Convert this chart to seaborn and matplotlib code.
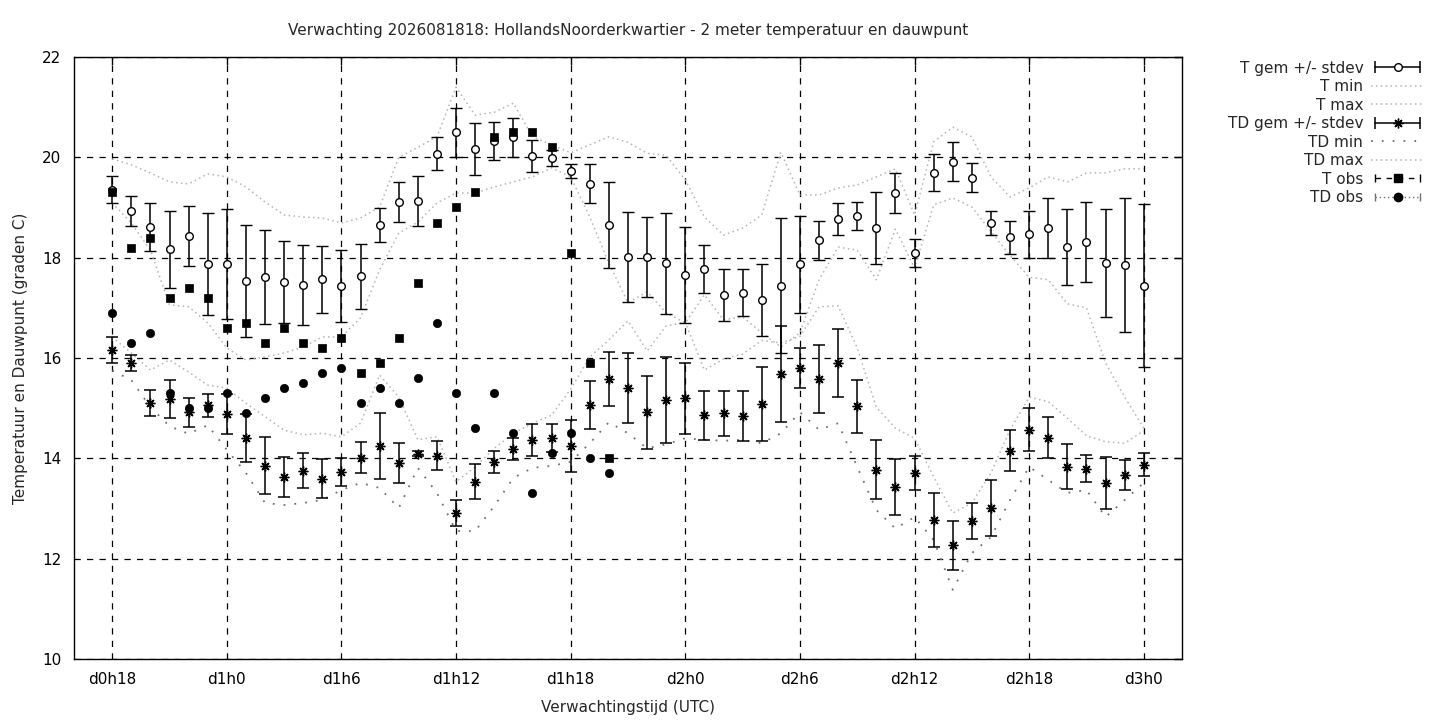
import numpy as np
import pandas as pd
import matplotlib
matplotlib.use("Agg")
import matplotlib.pyplot as plt
import seaborn as sns
from matplotlib.lines import Line2D
from matplotlib.legend_handler import HandlerLine2D, HandlerTuple

# verwachtingsuren (uren na d0h0)
uren = list(range(18, 73))
obs_uren = list(range(18, 45))

t_gem = [19.35, 18.93, 18.61, 18.17, 18.43, 17.87, 17.87, 17.53, 17.61, 17.51,
         17.45, 17.57, 17.44, 17.63, 18.65, 19.11, 19.13, 20.07, 20.50, 20.17,
         20.33, 20.40, 20.03, 19.99, 19.73, 19.47, 18.65, 18.01, 18.01, 17.89,
         17.65, 17.77, 17.26, 17.30, 17.16, 17.44, 17.87, 18.35, 18.77, 18.83,
         18.59, 19.29, 18.09, 19.69, 19.91, 19.59, 18.69, 18.41, 18.47, 18.59,
         18.21, 18.31, 17.89, 17.85, 17.44]
t_sd = [0.27, 0.30, 0.47, 0.77, 0.59, 1.02, 1.10, 1.12, 0.94, 0.82,
        0.80, 0.67, 0.72, 0.65, 0.34, 0.40, 0.50, 0.33, 0.49, 0.52,
        0.38, 0.39, 0.32, 0.16, 0.14, 0.39, 0.86, 0.90, 0.80, 1.01,
        0.96, 0.48, 0.52, 0.47, 0.72, 1.35, 0.97, 0.39, 0.32, 0.27,
        0.71, 0.40, 0.28, 0.37, 0.39, 0.29, 0.24, 0.33, 0.47, 0.59,
        0.76, 0.80, 1.08, 1.33, 1.62]
t_min = [19.09, 18.69, 18.15, 17.06, 17.02, 16.70, 16.20, 15.96, 16.02, 16.10,
         16.22, 16.42, 16.42, 16.80, 17.76, 18.49, 18.71, 19.09, 19.29, 19.29,
         19.41, 19.51, 19.61, 19.79, 19.61, 18.81, 17.89, 17.10, 17.32, 16.90,
         16.70, 17.26, 16.76, 16.82, 16.50, 16.22, 16.50, 17.56, 18.21, 18.15,
         17.56, 18.57, 17.79, 19.05, 19.19, 19.01, 18.52, 18.04, 17.61, 17.56,
         17.08, 17.00, 15.90, 15.22, 14.60]
t_max = [19.97, 19.85, 19.69, 19.51, 19.47, 19.67, 19.61, 19.41, 19.11, 18.85,
         18.81, 18.79, 18.69, 18.79, 19.01, 20.00, 20.20, 20.41, 21.40, 20.84,
         20.90, 21.08, 20.41, 20.25, 20.09, 20.25, 20.41, 20.30, 20.08, 20.04,
         19.55, 18.81, 18.45, 18.59, 18.85, 20.10, 19.25, 19.25, 19.39, 19.45,
         19.61, 19.77, 18.85, 20.31, 20.60, 20.41, 19.61, 19.21, 19.39, 19.61,
         19.51, 19.69, 19.69, 19.77, 19.77]

td_gem = [16.16, 15.90, 15.10, 15.18, 14.92, 15.06, 14.88, 14.40, 13.85, 13.63,
          13.75, 13.59, 13.73, 14.01, 14.25, 13.91, 14.09, 14.05, 12.91, 13.53,
          13.93, 14.19, 14.37, 14.41, 14.25, 15.06, 15.58, 15.40, 14.92, 15.16,
          15.20, 14.86, 14.90, 14.84, 15.08, 15.68, 15.80, 15.58, 15.90, 15.04,
          13.77, 13.43, 13.71, 12.77, 12.27, 12.75, 13.01, 14.15, 14.57, 14.41,
          13.83, 13.79, 13.51, 13.67, 13.87]
td_sd = [0.25, 0.16, 0.26, 0.38, 0.29, 0.23, 0.40, 0.48, 0.57, 0.40,
         0.35, 0.39, 0.28, 0.31, 0.66, 0.40, 0.05, 0.29, 0.26, 0.35,
         0.22, 0.22, 0.32, 0.28, 0.52, 0.48, 0.53, 0.70, 0.73, 0.85,
         0.71, 0.49, 0.45, 0.50, 0.74, 0.96, 0.39, 0.68, 0.67, 0.53,
         0.59, 0.56, 0.34, 0.53, 0.49, 0.35, 0.55, 0.41, 0.43, 0.41,
         0.45, 0.27, 0.52, 0.30, 0.23]
td_min = [15.75, 15.56, 15.02, 14.64, 14.49, 14.66, 14.17, 13.71, 13.11, 13.07,
          13.11, 13.17, 13.37, 13.51, 13.41, 13.01, 13.81, 13.31, 12.55, 12.55,
          13.05, 13.61, 13.81, 13.85, 13.93, 14.30, 14.72, 14.50, 14.20, 14.28,
          14.40, 14.37, 14.35, 14.37, 14.30, 14.50, 14.92, 14.57, 14.70, 13.83,
          12.97, 12.60, 12.83, 12.37, 11.38, 12.11, 12.43, 13.17, 13.83, 13.57,
          13.31, 13.37, 12.83, 13.17, 13.51]
td_max = [16.42, 16.10, 15.76, 15.96, 15.72, 15.46, 15.40, 15.10, 14.83, 14.56,
          14.47, 14.50, 14.43, 14.70, 15.66, 15.22, 14.37, 14.43, 13.53, 13.83,
          14.20, 14.50, 14.70, 14.86, 15.38, 16.02, 16.36, 16.74, 16.14, 16.64,
          16.71, 15.76, 15.98, 16.08, 16.35, 16.30, 16.43, 17.02, 17.04, 16.20,
          15.02, 14.60, 14.40, 13.63, 12.91, 13.11, 13.71, 14.57, 15.22, 15.13,
          14.80, 14.45, 14.33, 14.30, 14.55]

t_obs = [19.3, 18.2, 18.4, 17.2, 17.4, 17.2, 16.6, 16.7, 16.3, 16.6, 16.3, 16.2,
         16.4, 15.7, 15.9, 16.4, 17.5, 18.7, 19.0, 19.3, 20.4, 20.5, 20.5, 20.2,
         18.1, 15.9, 14.0]
td_obs = [16.9, 16.3, 16.5, 15.3, 15.0, 15.0, 15.3, 14.9, 15.2, 15.4, 15.5, 15.7,
          15.8, 15.1, 15.4, 15.1, 15.6, 16.7, 15.3, 14.6, 15.3, 14.5, 13.3, 14.1,
          14.5, 14.0, 13.7]

tick_uren = [18, 24, 30, 36, 42, 48, 54, 60, 66, 72]
tick_labels = ["d0h18", "d1h0", "d1h6", "d1h12", "d1h18",
               "d2h0", "d2h6", "d2h12", "d2h18", "d3h0"]

df = pd.DataFrame({"uur": uren, "t_min": t_min, "t_max": t_max,
                   "td_min": td_min, "td_max": td_max})
df_obs = pd.DataFrame({"uur": obs_uren, "t_obs": t_obs, "td_obs": td_obs})

sns.set_theme(style="white")
plt.rcParams["font.family"] = ["DejaVu Sans"]

fig = plt.figure(figsize=(14.4, 7.2), dpi=100)
ax = fig.add_axes([74 / 1440, 61 / 720, 1108 / 1440, 602 / 720])

LIGHT = "#b4b4b4"
DARK = "#707070"
star = (8, 2, 0)

sns.lineplot(data=df, x="uur", y="t_min", ax=ax, color=LIGHT, lw=1.1,
             linestyle=(0, (1, 2.2)))
sns.lineplot(data=df, x="uur", y="t_max", ax=ax, color=LIGHT, lw=1.1,
             linestyle=(0, (1, 2.2)))
sns.lineplot(data=df, x="uur", y="td_min", ax=ax, color=DARK, lw=1.3,
             linestyle=(0, (1, 5)))
sns.lineplot(data=df, x="uur", y="td_max", ax=ax, color=LIGHT, lw=1.1,
             linestyle=(0, (1, 2.2)))

ax.errorbar(uren, t_gem, yerr=t_sd, fmt="o", mfc="white", mec="black",
            mew=1.0, ms=5.5, ecolor="black", elinewidth=1.1, capsize=4,
            capthick=1.1, zorder=5)
ax.errorbar(uren, td_gem, yerr=td_sd, fmt="none", ecolor="black",
            elinewidth=1.1, capsize=4, capthick=1.1, zorder=5)
ax.plot(uren, td_gem, linestyle="none", marker=star, ms=7, mec="black",
        mew=1.0, zorder=6)

sns.scatterplot(data=df_obs, x="uur", y="t_obs", ax=ax, marker="s", s=38,
                color="black", edgecolor="black", zorder=7)
sns.scatterplot(data=df_obs, x="uur", y="td_obs", ax=ax, marker="o", s=36,
                color="black", edgecolor="black", zorder=7)

ax.set_xlim(16, 74)
ax.set_ylim(10, 22)
ax.set_xticks(tick_uren)
ax.set_xticklabels(tick_labels)
ax.set_yticks([10, 12, 14, 16, 18, 20, 22])
ax.grid(True, color="black", linestyle=(0, (5, 5)), lw=0.9)
ax.set_axisbelow(True)
for sp in ax.spines.values():
    sp.set_color("black")
    sp.set_linewidth(1.0)
ax.tick_params(direction="in", length=6, width=1, colors="black",
               labelsize=11, top=True, right=True, pad=9)

ax.set_title("Verwachting 2026081818: HollandsNoorderkwartier - 2 meter temperatuur en dauwpunt",
             fontsize=11, pad=16)
ax.set_xlabel("Verwachtingstijd (UTC)", fontsize=11, labelpad=10)
ax.set_ylabel("Temperatuur en Dauwpunt (graden C)", fontsize=11, labelpad=10)

# legenda in gnuplot-stijl
cap = dict(color="black", lw=1.1, marker="|", ms=9, mew=1.1)
h_t_bar = Line2D([], [], **cap)
h_t_pt = Line2D([], [], ls="none", marker="o", mfc="white", mec="black", ms=5.5)
h_td_bar = Line2D([], [], **cap)
h_td_pt = Line2D([], [], ls="none", marker=star, mec="black", ms=7)
h_tmin = Line2D([], [], color=LIGHT, lw=1.1, ls=(0, (1, 2.2)))
h_tmax = Line2D([], [], color=LIGHT, lw=1.1, ls=(0, (1, 2.2)))
h_tdmin = Line2D([], [], color=DARK, lw=1.3, ls=(0, (1, 5)))
h_tdmax = Line2D([], [], color=LIGHT, lw=1.1, ls=(0, (1, 2.2)))
h_tobs_l = Line2D([], [], color="black", lw=1.0, ls=(0, (4, 4)), marker="|", ms=6)
h_tobs_p = Line2D([], [], ls="none", marker="s", color="black", ms=6)
h_tdobs_l = Line2D([], [], color=DARK, lw=1.0, ls=(0, (1, 2)), marker="|", ms=6)
h_tdobs_p = Line2D([], [], ls="none", marker="o", color="black", ms=6)

two = HandlerLine2D(numpoints=2)
handles = [(h_t_bar, h_t_pt), h_tmin, h_tmax, (h_td_bar, h_td_pt),
           h_tdmin, h_tdmax, (h_tobs_l, h_tobs_p), (h_tdobs_l, h_tdobs_p)]
labels = ["T gem +/- stdev", "T min", "T max", "TD gem +/- stdev",
          "TD min", "TD max", "T obs", "TD obs"]
fig.legend(handles, labels, loc="upper right",
           bbox_to_anchor=(1432 / 1440, 1 - 53 / 720), frameon=False,
           markerfirst=False, fontsize=11, handlelength=3.5,
           handletextpad=0.5, labelspacing=0.23, borderpad=0,
           handler_map={tuple: HandlerTuple(ndivide=1, pad=0),
                        h_t_bar: two, h_td_bar: two,
                        h_tobs_l: two, h_tdobs_l: two})

fig.savefig("out.png", dpi=100)
